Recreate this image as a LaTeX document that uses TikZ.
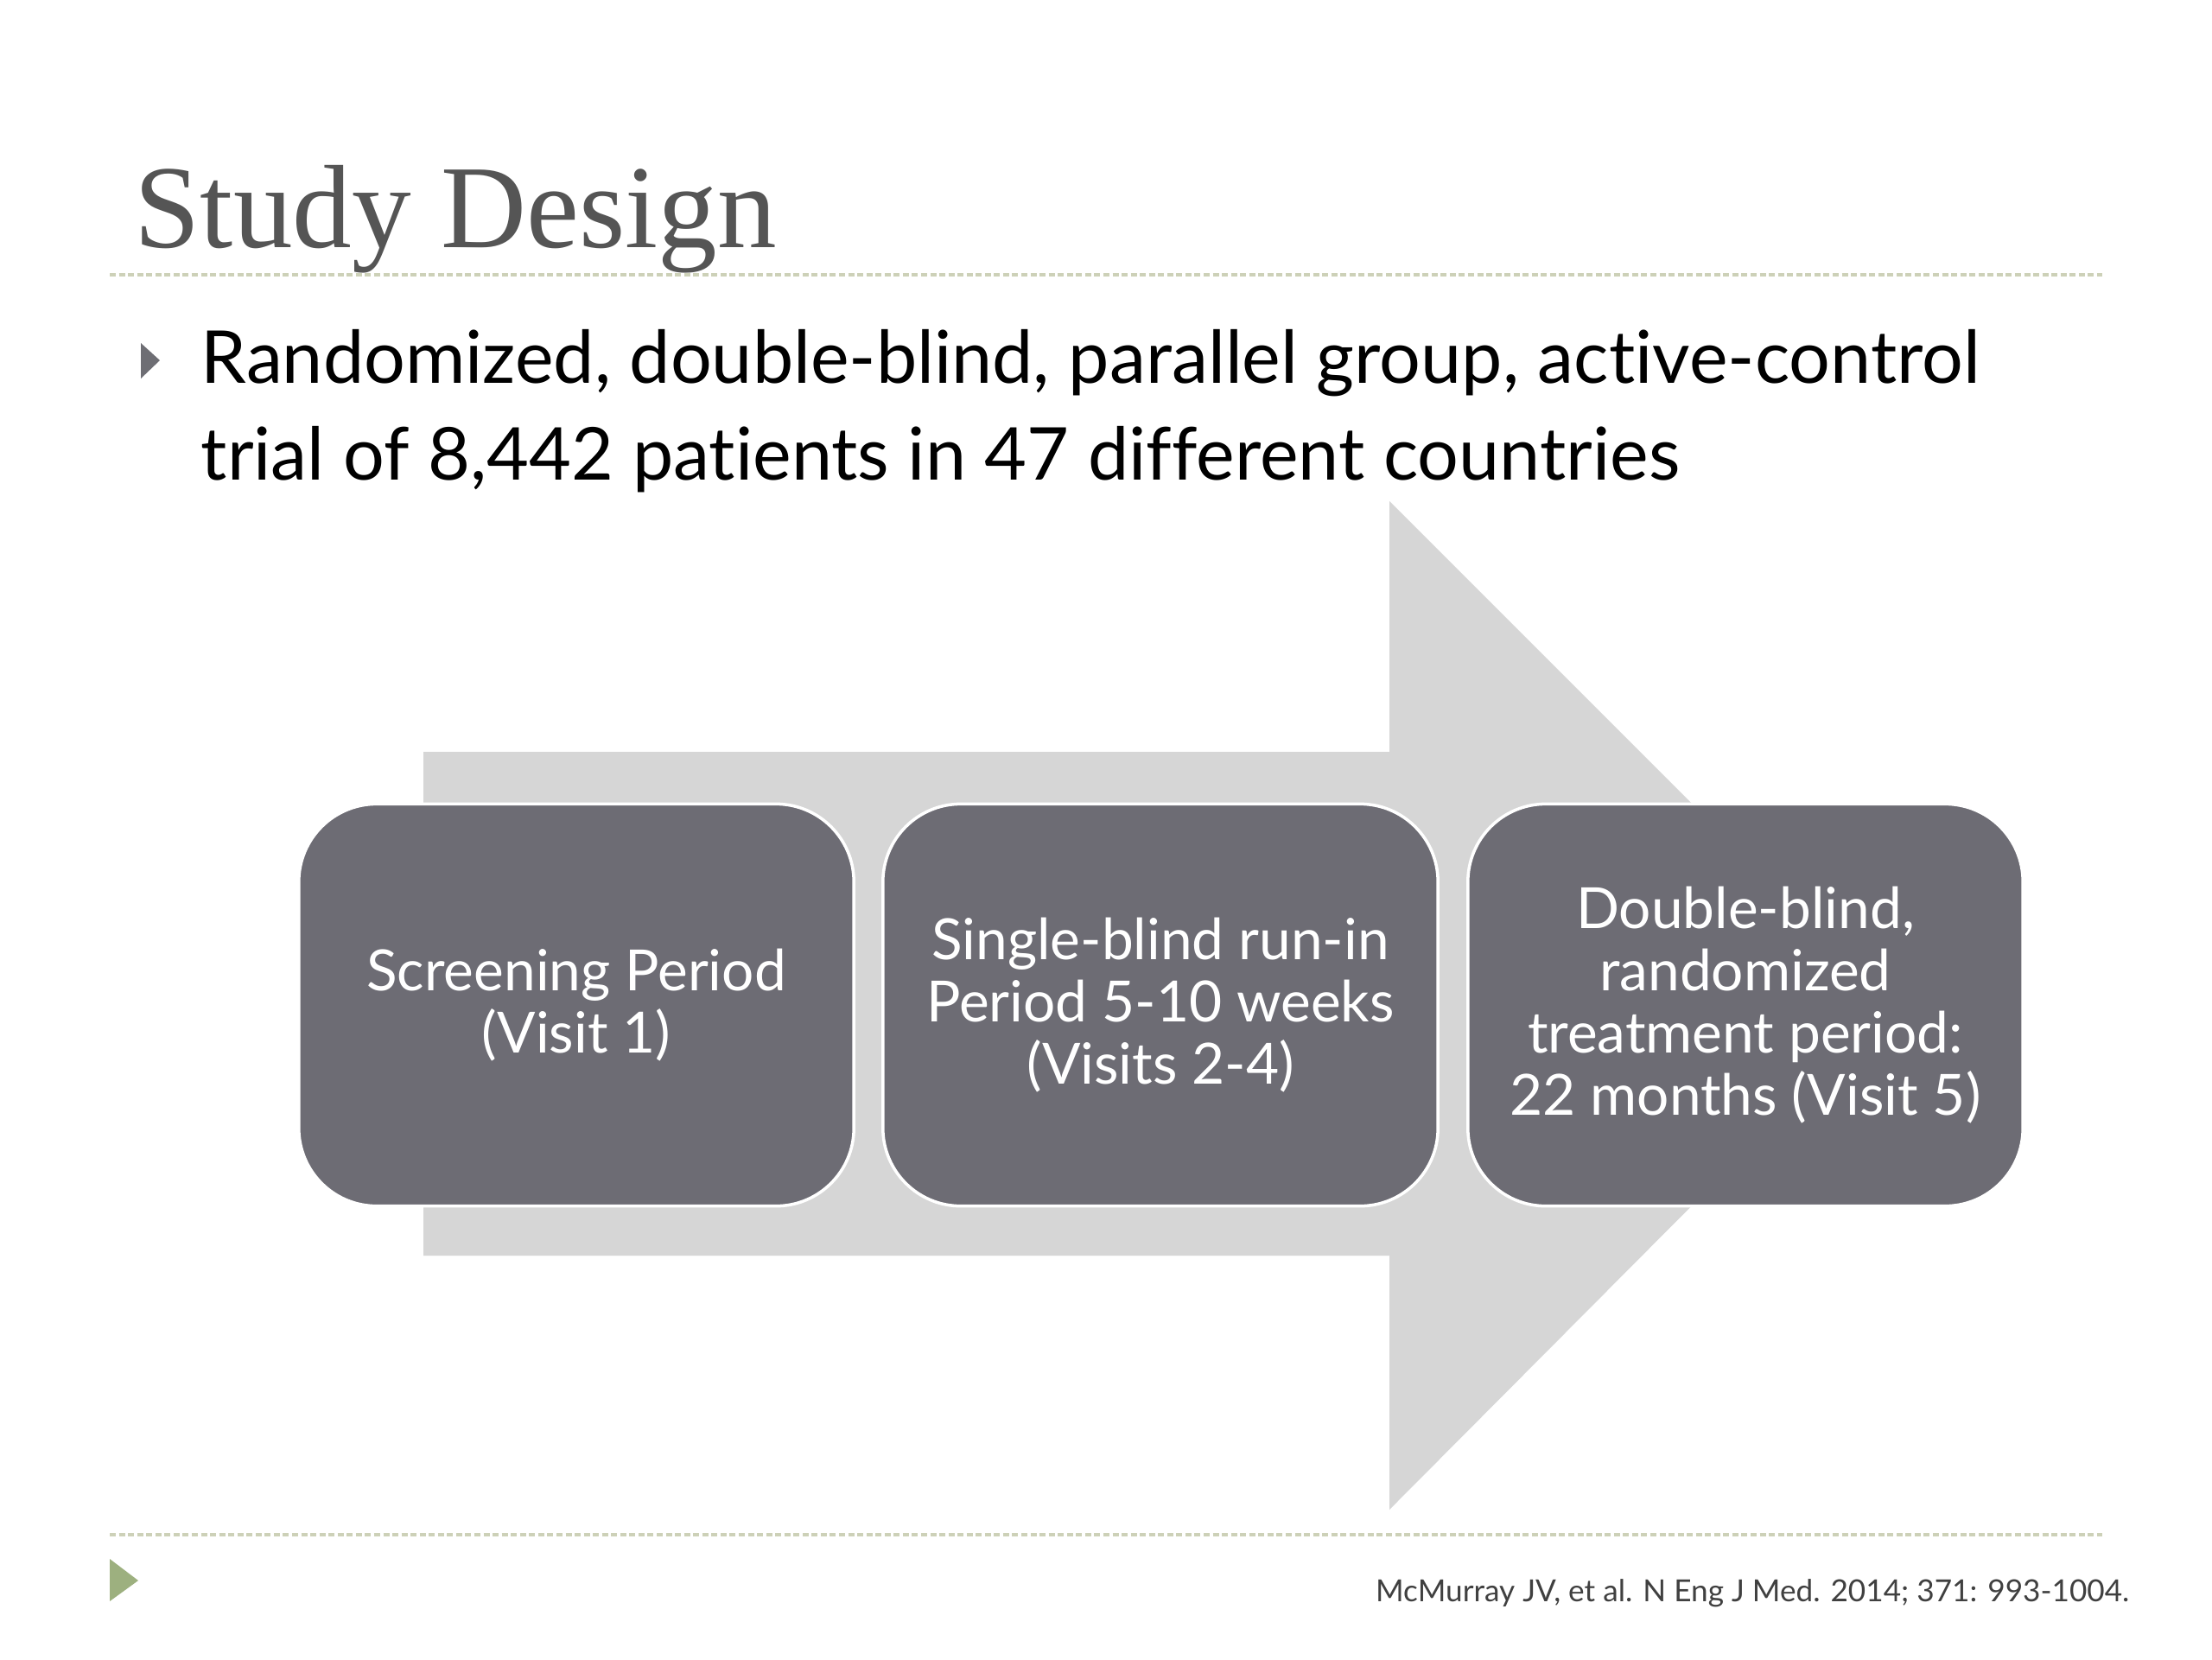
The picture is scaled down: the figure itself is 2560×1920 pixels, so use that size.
\documentclass[tikz,border=0pt]{standalone}
\usepackage{fontspec}
\setmainfont{Lato}[Ligatures=NoCommon]
\newfontfamily\titlefont{Liberation Serif}
\definecolor{titlegray}{HTML}{555555}
\definecolor{rulegreen}{HTML}{CDD1B8}
\definecolor{bulletgray}{HTML}{6E6E74}
\definecolor{arrowgray}{HTML}{D6D6D6}
\definecolor{boxgray}{HTML}{6D6C74}
\definecolor{navgreen}{HTML}{9DB07F}
\definecolor{citegray}{HTML}{404040}
\tikzset{
  rulestyle/.style={rulegreen, line width=0.9pt, dash pattern=on 2pt off 1pt},
  stagebox/.style={rectangle, rounded corners=0.9cm, fill=boxgray, draw=white, line width=1pt,
    minimum width=6.42cm, minimum height=4.65cm, text=white, align=center,
    font=\fontsize{18.7}{20.5}\selectfont, inner sep=0pt},
}
\begin{document}
\begin{tikzpicture}[x=0.01cm, y=-0.01cm]
\useasboundingbox (0,0) rectangle (2560,1920);
\fill[white] (0,0) rectangle (2560,1920);
% title
\node[anchor=base west, inner sep=0pt, text=titlegray, font=\titlefont\fontsize{39}{42}\selectfont] (title) at (155,286) {Study Design};
\draw[rulestyle] (127,318) -- (2433,318);
% bullet
\fill[bulletgray] (163,397) -- (185,417) -- (163,438) -- cycle;
\node[anchor=base west, inner sep=0pt, align=left, font=\fontsize{24}{31.6}\selectfont] (bullet) at (232,555)
  {Randomized, double-blind, parallel group, active-control\\trial of 8,442 patients in 47 different countries};
% big arrow
\fill[arrowgray] (490,870) -- (1608,870) -- (1608,580) -- (2190,1162) -- (1608,1747) -- (1608,1453) -- (490,1453) -- cycle;
% boxes
\node[stagebox] (s1) at (667,1163) {Screening Period\\(Visit 1)};
\node[stagebox] (s2) at (1343,1163) {Single-blind run-in\\Period 5-10 weeks\\(Visits 2-4)};
\node[stagebox] (s3) at (2020,1163) {Double-blind,\\randomized\\treatment period:\\22 months (Visit 5)};
% bottom rule
\draw[rulestyle] (127,1776) -- (2433,1776);
\fill[navgreen] (127,1804) -- (160,1829) -- (127,1853) -- cycle;
\node[anchor=base east, inner sep=0pt, text=citegray, font=\fontsize{10}{12}\selectfont] (cite) at (2465,1853)
  {McMurray JV, et al. N Eng J Med. 2014; 371: 993-1004.};
\end{tikzpicture}
\end{document}
